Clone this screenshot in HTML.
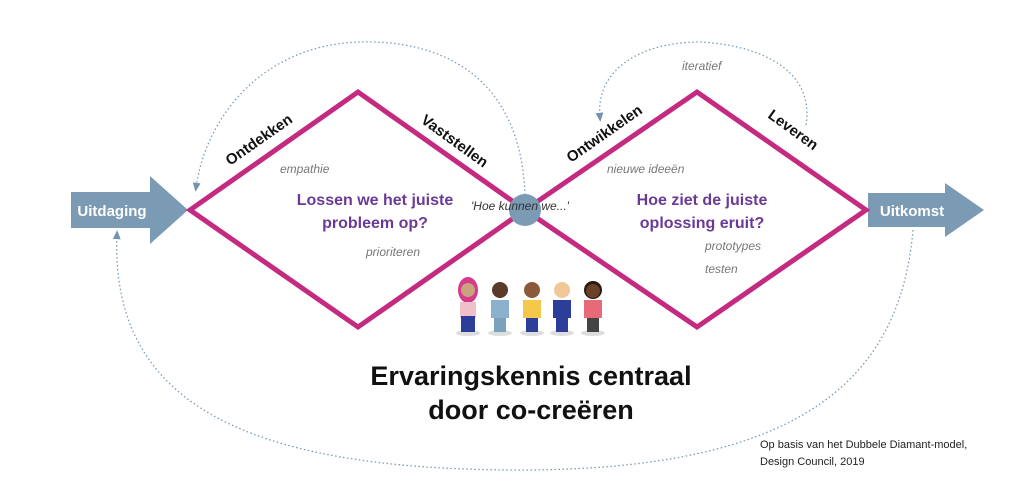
<!DOCTYPE html>
<html><head><meta charset="utf-8"><style>
body{margin:0;background:#fff;width:1024px;height:477px;overflow:hidden}
svg text{font-family:"Liberation Sans",sans-serif}
</style></head><body>
<svg width="1024" height="477" viewBox="0 0 1024 477">
<defs><marker id="a" markerWidth="8" markerHeight="8" refX="4" refY="4" orient="auto"><path d="M0,1 L7,4 L0,7 z" fill="#6f93b0"/></marker></defs>
<g fill="none" stroke="#7c9bb5" stroke-width="1.3" stroke-dasharray="1.5 2.5">
<path d="M525,195 C520,60 420,40 360,42 C260,45 205,120 196,188" marker-end="url(#a)"/>
<path d="M806,125 C815,70 760,45 700,42 C640,42 595,70 600,118" marker-end="url(#a)"/>
<path d="M913,230 C900,380 800,470 520,470 C240,470 110,400 117,234" marker-end="url(#a)"/>
</g>
<polygon points="71,192 150,192 150,176 188,210 150,244 150,228 71,228" fill="#7b9bb5"/>
<polygon points="868,193 945,193 945,183 984,210 945,237 945,227 868,227" fill="#7b9bb5"/>
<text x="112" y="216" font-size="15" font-weight="bold" fill="#fff" text-anchor="middle">Uitdaging</text>
<text x="912" y="216" font-size="15" font-weight="bold" fill="#fff" text-anchor="middle">Uitkomst</text>
<g fill="none" stroke="#c42a80" stroke-width="5" stroke-linejoin="miter">
<polygon points="190,210 358,92 525,210 358,327"/>
<polygon points="525,210 697,92 866,210 697,327"/>
</g>
<circle cx="525" cy="210" r="16" fill="#7b9bb5"/>
<g font-size="15" font-weight="bold" fill="#111">
<text transform="translate(230,166) rotate(-35)">Ontdekken</text>
<text transform="translate(420,122) rotate(36)">Vaststellen</text>
<text transform="translate(571,163) rotate(-35)">Ontwikkelen</text>
<text transform="translate(767,117) rotate(36)">Leveren</text>
</g>
<g font-size="16" font-weight="bold" fill="#6a3a96" text-anchor="middle">
<text x="375" y="205">Lossen we het juiste</text>
<text x="375" y="228">probleem op?</text>
<text x="702" y="205">Hoe ziet de juiste</text>
<text x="702" y="228">oplossing eruit?</text>
</g>
<g font-size="12" font-style="italic" fill="#777" font-family="Liberation Serif">
<text x="280" y="173">empathie</text>
<text x="366" y="256">prioriteren</text>
<text x="607" y="173">nieuwe ideeën</text>
<text x="705" y="250">prototypes</text>
<text x="705" y="273">testen</text>
<text x="682" y="70">iteratief</text>
<text x="471" y="210" fill="#333">'Hoe kunnen we...'</text>
</g>
<g>
<g transform="translate(468,0)"><ellipse cx="0" cy="333" rx="12" ry="3" fill="#ddd"/><ellipse cx="0" cy="290" rx="10" ry="13" fill="#d63a8a"/><circle cx="0" cy="290" r="7" fill="#c9a27e"/><rect x="-8" y="302" width="16" height="16" fill="#f0c0c8"/><rect x="-7" y="316" width="14" height="16" fill="#2a3e9a"/></g>
<g transform="translate(500,0)"><ellipse cx="0" cy="333" rx="12" ry="3" fill="#ddd"/><circle cx="0" cy="290" r="8" fill="#5a3a2a"/><rect x="-9" y="300" width="18" height="18" fill="#8ab2cc"/><rect x="-6" y="318" width="12" height="14" fill="#7aa2bc"/></g>
<g transform="translate(532,0)"><ellipse cx="0" cy="333" rx="12" ry="3" fill="#ddd"/><circle cx="0" cy="290" r="8" fill="#8a5a3a"/><rect x="-9" y="300" width="18" height="18" fill="#f6c84a"/><rect x="-6" y="318" width="12" height="14" fill="#2a3e9a"/></g>
<g transform="translate(562,0)"><ellipse cx="0" cy="333" rx="12" ry="3" fill="#ddd"/><circle cx="0" cy="290" r="8" fill="#f0c898"/><rect x="-9" y="300" width="18" height="18" fill="#2a3e9a"/><rect x="-6" y="318" width="12" height="14" fill="#2a3e9a"/></g>
<g transform="translate(593,0)"><ellipse cx="0" cy="333" rx="12" ry="3" fill="#ddd"/><circle cx="0" cy="290" r="9" fill="#2a1a10"/><circle cx="0" cy="291" r="7" fill="#6a4028"/><rect x="-9" y="300" width="18" height="18" fill="#e86a78"/><rect x="-6" y="318" width="12" height="14" fill="#444"/></g>
</g>
<g font-size="27" font-weight="bold" fill="#111" text-anchor="middle">
<text x="531" y="385">Ervaringskennis centraal</text>
<text x="531" y="419">door co-creëren</text>
</g>
<g font-size="11" fill="#222">
<text x="760" y="448">Op basis van het Dubbele Diamant-model,</text>
<text x="760" y="465">Design Council, 2019</text>
</g>
</svg>
</body></html>
